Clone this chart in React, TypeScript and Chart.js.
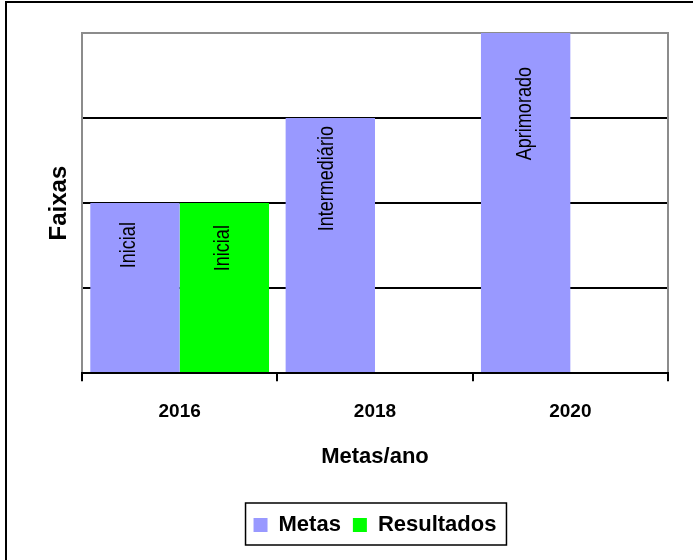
import React, { useEffect, useRef } from 'react';
import { Chart, registerables } from 'chart.js';

Chart.register(...registerables);

const categories = ['2016', '2018', '2020'];
const metasValues = [2, 3, 4];
const resultadosValues = [2, null, null];
const metasLabels = ['Inicial', 'Intermediário', 'Aprimorado'];
const resultadosLabels = ['Inicial', '', ''];
const yMin = 0;
const yMax = 4;
const yStep = 1;

const FONT = '"Liberation Sans", Arial, sans-serif';

const barLabelPlugin = {
  id: 'barLabels',
  afterDatasetsDraw(chart: any) {
    const ctx = chart.ctx;
    const sets = [
      { labels: metasLabels, top: [19, 8, 34], dx: [0.5, 2.5, 5.5] },
      { labels: resultadosLabels, top: [22, 0, 0], dx: [5, 0, 0] },
    ];
    sets.forEach((s, di) => {
      const meta = chart.getDatasetMeta(di);
      meta.data.forEach((el: any, i: number) => {
        const text = s.labels[i];
        if (!text) return;
        const { x, y } = el.getProps(['x', 'y'], true);
        ctx.save();
        ctx.font = `22px ${FONT}`;
        const w = ctx.measureText(text).width * 0.82;
        ctx.translate(x + s.dx[i], y + s.top[i] + w);
        ctx.rotate(-Math.PI / 2);
        ctx.scale(0.82, 1);
        ctx.fillStyle = '#000';
        ctx.textAlign = 'left';
        ctx.textBaseline = 'alphabetic';
        ctx.fillText(text, 0, 0);
        ctx.restore();
      });
    });
    const a = chart.chartArea;
    ctx.save();
    ctx.strokeStyle = '#000';
    ctx.lineWidth = 2;
    ctx.beginPath();
    ctx.moveTo(a.left - 1, Math.round(a.bottom));
    ctx.lineTo(a.right + 1, Math.round(a.bottom));
    ctx.stroke();
    ctx.restore();
  },
  beforeDatasetsDraw(chart: any) {
    const ctx = chart.ctx;
    const a = chart.chartArea;
    ctx.save();
    ctx.strokeStyle = '#8c8c8c';
    ctx.lineWidth = 2;
    ctx.beginPath();
    const rx = Math.round(a.right);
    ctx.moveTo(rx, a.top - 1);
    ctx.lineTo(rx, a.bottom);
    ctx.stroke();
    ctx.restore();
  },
  afterDraw(chart: any) {
    const lg = chart.legend;
    if (!lg || !lg.legendHitBoxes || !lg.legendHitBoxes.length) return;
    const hb = lg.legendHitBoxes;
    const first = hb[0];
    const last = hb[hb.length - 1];
    const ctx = chart.ctx;
    const left = first.left - 8;
    const right = last.left + last.width + 10;
    const top = first.top - 11;
    const bottom = first.top + first.height + 9;
    ctx.save();
    ctx.strokeStyle = '#000';
    ctx.lineWidth = 1.5;
    ctx.strokeRect(left, top, right - left, bottom - top);
    ctx.restore();
  },
};

export default function App() {
  const ref = useRef<HTMLCanvasElement | null>(null);

  useEffect(() => {
    if (!ref.current) return;
    const chart = new Chart(ref.current, {
      type: 'bar',
      data: {
        labels: categories,
        datasets: [
          {
            label: 'Metas',
            data: metasValues,
            backgroundColor: '#9999FF',
            borderWidth: 0,
          },
          {
            label: 'Resultados',
            data: resultadosValues as any,
            backgroundColor: '#00FF00',
            borderWidth: 0,
          },
        ],
      },
      options: {
        responsive: false,
        animation: false,
        datasets: {
          bar: { categoryPercentage: 0.915, barPercentage: 1 },
        },
        layout: { padding: { top: 33, left: 40, right: 25, bottom: 14 } },
        plugins: {
          tooltip: { enabled: false },
          legend: {
            position: 'bottom',
            fullSize: false,
            labels: {
              boxWidth: 14,
              boxHeight: 14,
              padding: 12,
              color: '#000',
              font: { family: FONT, size: 22, weight: 'bold' },
            },
          },
        },
        scales: {
          x: {
            grid: {
              display: true,
              drawOnChartArea: false,
              drawTicks: true,
              tickLength: 8,
              lineWidth: 2,
              color: '#000',
              offset: true,
            },
            border: { display: false },
            ticks: {
              color: '#000',
              padding: 19,
              font: { family: FONT, size: 19, weight: 'bold' },
            },
            title: {
              display: true,
              text: 'Metas/ano',
              color: '#000',
              font: { family: FONT, size: 22, weight: 'bold', lineHeight: 1 },
              padding: { top: 4, bottom: 34 },
            },
          },
          y: {
            min: yMin,
            max: yMax,
            ticks: { display: false, stepSize: yStep },
            grid: {
              drawTicks: false,
              lineWidth: 2,
              color: (c: any) => (c.tick && c.tick.value === yMax ? '#8c8c8c' : '#000'),
            },
            border: { display: true, color: '#8c8c8c', width: 2 },
            title: {
              display: true,
              text: 'Faixas',
              color: '#000',
              font: { family: FONT, size: 24, weight: 'bold', lineHeight: 1 },
              padding: { top: 7, bottom: 11 },
            },
          },
        },
      },
      plugins: [barLabelPlugin],
    });
    return () => chart.destroy();
  }, []);

  return (
    <>
      <canvas
        ref={ref}
        width={693}
        height={560}
        style={{ position: 'fixed', left: 0, top: 0, width: 693, height: 560 }}
      />
      <div
        style={{
          position: 'fixed',
          left: 5,
          top: 1,
          right: 0,
          bottom: 0,
          borderLeft: '2px solid #000',
          borderTop: '2px solid #000',
          pointerEvents: 'none',
        }}
      />
    </>
  );
}
